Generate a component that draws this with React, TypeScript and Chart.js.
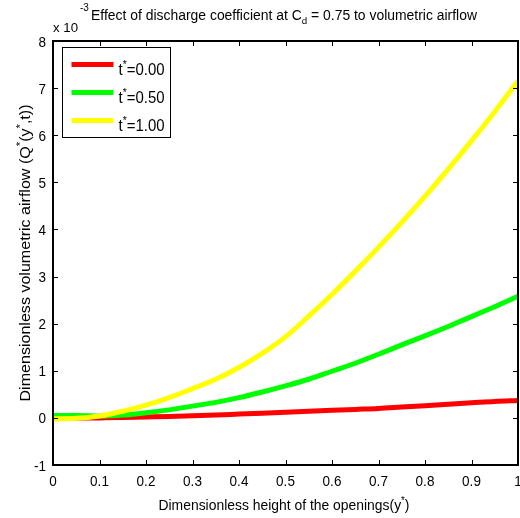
import React, { useEffect, useRef } from "react";
import { Chart, registerables } from "chart.js";
Chart.register(...registerables);

// ---- data (values in units of 10^-3) ----
const xValues = [0, 0.05, 0.1, 0.15, 0.2, 0.25, 0.3, 0.35, 0.4, 0.45, 0.5, 0.55, 0.6, 0.65, 0.7, 0.75, 0.8, 0.85, 0.9, 0.95, 1.0];
const seriesT000 = [0, 0, 0, 0.01, 0.02, 0.03, 0.045, 0.06, 0.08, 0.1, 0.12, 0.14, 0.16, 0.18, 0.2, 0.23, 0.26, 0.29, 0.32, 0.35, 0.37];
const seriesT050 = [0.05, 0.05, 0.04, 0.06, 0.11, 0.17, 0.25, 0.33, 0.43, 0.55, 0.68, 0.82, 0.99, 1.16, 1.35, 1.55, 1.74, 1.94, 2.15, 2.36, 2.58];
const seriesT100 = [-0.02, -0.01, 0.04, 0.14, 0.27, 0.43, 0.62, 0.82, 1.07, 1.37, 1.72, 2.16, 2.62, 3.11, 3.62, 4.15, 4.7, 5.28, 5.88, 6.5, 7.15];
const legendLabels = ["0.00", "0.50", "1.00"];
const seriesColors = ["#ff0000", "#00ff00", "#ffff00"];
const xTicks = [0, 0.1, 0.2, 0.3, 0.4, 0.5, 0.6, 0.7, 0.8, 0.9, 1];
const xTickLabels = ["0", "0.1", "0.2", "0.3", "0.4", "0.5", "0.6", "0.7", "0.8", "0.9", "1"];
const yTicks = [-1, 0, 1, 2, 3, 4, 5, 6, 7, 8];
const yTickLabels = ["-1", "0", "1", "2", "3", "4", "5", "6", "7", "8"];
const exponentLabel = "-3";

const FONT = '"Liberation Sans", Arial, Helvetica, sans-serif';

type Seg = [string, "n" | "sup" | "sub"];

function drawRich(
  ctx: CanvasRenderingContext2D,
  segs: Seg[],
  x: number,
  y: number,
  size: number,
  targetWidth: number | null,
  align: "left" | "center" | "right"
) {
  const small = size * 0.7;
  let total = 0;
  const widths = segs.map(([t, k]) => {
    ctx.font = `${k === "n" ? size : small}px ${FONT}`;
    const w = ctx.measureText(t).width;
    total += w;
    return w;
  });
  const sx = targetWidth ? targetWidth / total : 1;
  ctx.save();
  ctx.translate(x, y);
  ctx.scale(sx, 1);
  ctx.textAlign = "left";
  ctx.textBaseline = "alphabetic";
  ctx.fillStyle = "#000";
  let cx = align === "center" ? -total / 2 : align === "right" ? -total : 0;
  segs.forEach(([t, k], i) => {
    ctx.font = `${k === "n" ? size : small}px ${FONT}`;
    const dy = k === "sup" ? -size * 0.42 : k === "sub" ? size * 0.3 : 0;
    ctx.fillText(t, cx, dy);
    cx += widths[i];
  });
  ctx.restore();
}

const matlabPlugin = {
  id: "matlabDecor",
  afterDraw(chart: any) {
    const ctx: CanvasRenderingContext2D = chart.ctx;
    const { left, right, top, bottom } = chart.chartArea;
    const xs = chart.scales.x;
    const ys = chart.scales.y;
    ctx.save();

    // frame
    ctx.strokeStyle = "#000";
    ctx.lineWidth = 2;
    ctx.strokeRect(left, top, right - left, bottom - top);

    // inward ticks
    ctx.lineWidth = 1;
    const tl = 5;
    xTicks.forEach((v) => {
      const px = Math.round(xs.getPixelForValue(v)) + 0.5;
      ctx.beginPath();
      ctx.moveTo(px, bottom);
      ctx.lineTo(px, bottom - tl);
      ctx.moveTo(px, top);
      ctx.lineTo(px, top + tl);
      ctx.stroke();
    });
    yTicks.forEach((v) => {
      const py = Math.round(ys.getPixelForValue(v)) + 0.5;
      ctx.beginPath();
      ctx.moveTo(left, py);
      ctx.lineTo(left + tl, py);
      ctx.moveTo(right, py);
      ctx.lineTo(right - tl, py);
      ctx.stroke();
    });

    // tick labels (slightly condensed like the original)
    const tickSize = 15;
    xTicks.forEach((v, i) => {
      const px = xs.getPixelForValue(v);
      ctx.font = `${tickSize}px ${FONT}`;
      const w = ctx.measureText(xTickLabels[i]).width * 0.9;
      drawRich(ctx, [[xTickLabels[i], "n"]], px, bottom + 21, tickSize, w, "center");
    });
    yTicks.forEach((v, i) => {
      const py = ys.getPixelForValue(v);
      ctx.font = `${tickSize}px ${FONT}`;
      const w = ctx.measureText(yTickLabels[i]).width * 0.9;
      drawRich(ctx, [[yTickLabels[i], "n"]], left - 7, py + 5.5, tickSize, w, "right");
    });

    // exponent label
    drawRich(ctx, [["x 10", "n"]], left, 32, 13, 25, "left");
    ctx.font = `10px ${FONT}`;
    ctx.fillStyle = "#000";
    ctx.textAlign = "left";
    ctx.fillText(exponentLabel, left + 27, 11);

    // title
    drawRich(
      ctx,
      [
        ["Effect of discharge coefficient at C", "n"],
        ["d", "sub"],
        [" = 0.75 to volumetric airflow", "n"],
      ],
      91,
      20,
      14,
      386,
      "left"
    );

    // x label
    drawRich(
      ctx,
      [
        ["Dimensionless height of the openings(y", "n"],
        ["*", "sup"],
        [")", "n"],
      ],
      284,
      510,
      15,
      251,
      "center"
    );

    // y label
    ctx.save();
    ctx.translate(30, 253);
    ctx.rotate(-Math.PI / 2);
    drawRich(
      ctx,
      [
        ["Dimensionless volumetric airflow (Q", "n"],
        ["*", "sup"],
        ["(y", "n"],
        ["*", "sup"],
        [",t))", "n"],
      ],
      0,
      0,
      15,
      297,
      "center"
    );
    ctx.restore();

    // legend
    const lx = left + 9.5;
    const ly = top + 6.5;
    const lw = 108;
    const lh = 90;
    ctx.fillStyle = "#fff";
    ctx.fillRect(lx, ly, lw, lh);
    ctx.strokeStyle = "#000";
    ctx.lineWidth = 1;
    ctx.strokeRect(lx, ly, lw, lh);
    chart.data.datasets.forEach((ds: any, i: number) => {
      const iy = ly + 17 + i * 28;
      ctx.strokeStyle = ds.borderColor;
      ctx.lineWidth = 5;
      ctx.beginPath();
      ctx.moveTo(lx + 9, iy);
      ctx.lineTo(lx + 51, iy);
      ctx.stroke();
      drawRich(
        ctx,
        [
          ["t", "n"],
          ["*", "sup"],
          ["=" + legendLabels[i], "n"],
        ],
        lx + 56,
        iy + 10,
        16,
        46,
        "left"
      );
    });

    ctx.restore();
  },
};

export default function App() {
  const canvasRef = useRef<HTMLCanvasElement | null>(null);

  useEffect(() => {
    const canvas = canvasRef.current;
    if (!canvas) return;
    const allSeries = [seriesT000, seriesT050, seriesT100];
    const chart = new Chart(canvas, {
      type: "line",
      data: {
        datasets: allSeries.map((s, i) => ({
          label: "t*=" + legendLabels[i],
          data: xValues.map((x, j) => ({ x, y: s[j] })),
          borderColor: seriesColors[i],
          backgroundColor: seriesColors[i],
          borderWidth: 5,
          pointRadius: 0,
          fill: false,
          cubicInterpolationMode: "monotone" as const,
          order: 2 - i,
        })),
      },
      options: {
        responsive: false,
        animation: false,
        events: [],
        layout: { padding: { left: 53, right: 2, top: 41, bottom: 53 } },
        plugins: {
          legend: { display: false },
          tooltip: { enabled: false },
          title: { display: false },
        },
        scales: {
          x: { type: "linear", min: 0, max: 1, display: false },
          y: { type: "linear", min: -1, max: 8, display: false },
        },
      },
      plugins: [matlabPlugin],
    });
    return () => chart.destroy();
  }, []);

  return (
    <div style={{ position: "absolute", left: 0, top: 0, width: 520, height: 518, background: "#fff" }}>
      <canvas ref={canvasRef} width={520} height={518} style={{ display: "block" }} />
    </div>
  );
}
